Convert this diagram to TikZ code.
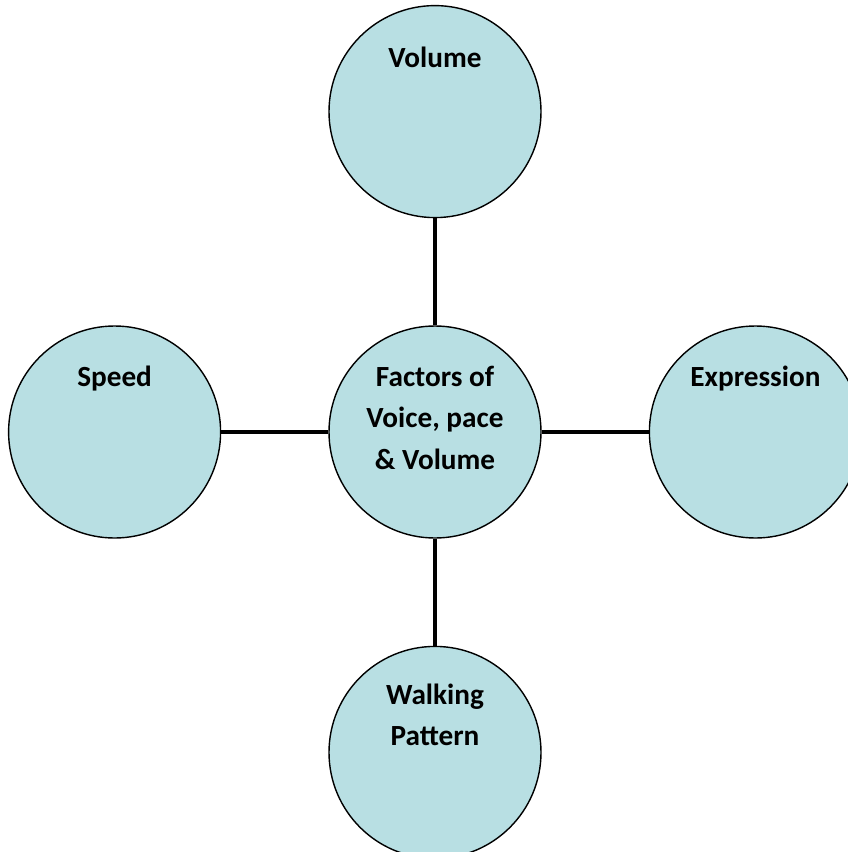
\documentclass[tikz,border=0pt]{standalone}
\usepackage{fontspec}
\setmainfont{Carlito}
\usetikzlibrary{calc,positioning}
\definecolor{bubblefill}{RGB}{184,223,227}

\begin{document}
\begin{tikzpicture}[node distance=2.675cm,auto,
		bubble/.style={circle,draw,line width=1pt,fill=bubblefill,minimum size=5.3cm,inner sep=0pt},
		caption/.style={font=\bfseries\fontsize{20.8}{29.2}\selectfont,align=center,anchor=base,inner sep=0pt},
		spoke/.style={line width=3.4pt}]
	\useasboundingbox (0,0) rectangle (21.2,-21.3);
	\node[bubble] (hub) at (10.875,-10.8) {};
	\node[bubble, above = of hub] (volume) {};
	\node[bubble, left = of hub] (speed) {};
	\node[bubble, right = of hub] (expression) {};
	\node[bubble, below = of hub] (walking) {};

	% spokes
	\draw[spoke] (hub) -- (volume);
	\draw[spoke] (hub) -- (speed);
	\draw[spoke] (hub) -- (expression);
	\draw[spoke] (hub) -- (walking);

	% texts (base = last line)
	\node[caption] (hubtext) at ($(hub.center)+(0,-0.925)$) {Factors of\\Voice, pace\\\& Volume};
	\node[caption] (volumetext) at ($(volume.north)+(0,-1.57)$) {Volume};
	\node[caption] (speedtext) at ($(speed.north)+(0,-1.52)$) {Speed};
	\node[caption] (expressiontext) at ($(expression.north)+(0,-1.52)$) {Expression};
	\node[caption] (walkingtext) at ($(walking.north)+(0,-2.5)$) {Walking\\Pattern};
\end{tikzpicture}
\end{document}
